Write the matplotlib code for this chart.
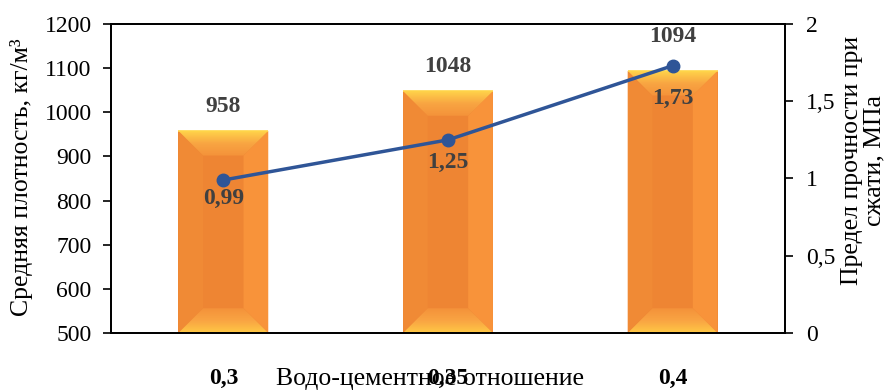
import numpy as np
import matplotlib.pyplot as plt
from matplotlib.patches import Polygon
from matplotlib.colors import LinearSegmentedColormap

plt.rcParams['font.family'] = ['Liberation Serif', 'DejaVu Serif']
plt.rcParams['axes.unicode_minus'] = False

categories = ['0,3', '0,35', '0,4']
density = [958, 1048, 1094]
strength = [0.99, 1.25, 1.73]
strength_labels = ['0,99', '1,25', '1,73']

# label offsets in points (style only)
bar_lab_off = [10, 10, 17]
line_lab_off = [-6, -9, -16]

fig = plt.figure(figsize=(8.93, 3.92), dpi=100)
ax = fig.add_axes([0.1243, 0.1505, 0.7547, 0.7883])
ax2 = ax.twinx()

x = np.arange(len(categories))
ymin, ymax = 500, 1200
ax.set_xlim(-0.5, len(categories) - 0.5)
ax.set_ylim(ymin, ymax)

bars = ax.bar(x, np.array(density) - ymin, bottom=ymin, width=0.4,
              color='#EE8533', edgecolor='none', zorder=2)

# bevel look of the bars
dx, dy = 0.11, 56
top_cmap = LinearSegmentedColormap.from_list('top', ['#F4923A', '#F8A542', '#FFD24A'])
bot_cmap = LinearSegmentedColormap.from_list('bot', ['#FFC845', '#F9A443', '#F4923A'])
for b, off in zip(bars, bar_lab_off):
    x0, x1 = b.get_x(), b.get_x() + b.get_width()
    y0, y1 = b.get_y(), b.get_y() + b.get_height()
    left = Polygon([(x0, y0), (x0 + dx, y0 + dy), (x0 + dx, y1 - dy), (x0, y1)],
                   closed=True, fc='#F08A35', ec='none', zorder=2.1)
    right = Polygon([(x1, y0), (x1 - dx, y0 + dy), (x1 - dx, y1 - dy), (x1, y1)],
                    closed=True, fc='#F8933A', ec='none', zorder=2.1)
    ax.add_patch(left)
    ax.add_patch(right)
    top = Polygon([(x0, y1), (x1, y1), (x1 - dx, y1 - dy), (x0 + dx, y1 - dy)],
                  closed=True, fc='none', ec='none', zorder=2.2)
    bot = Polygon([(x0, y0), (x1, y0), (x1 - dx, y0 + dy), (x0 + dx, y0 + dy)],
                  closed=True, fc='none', ec='none', zorder=2.2)
    ax.add_patch(top)
    ax.add_patch(bot)
    g = np.linspace(0, 1, 64).reshape(-1, 1)
    im = ax.imshow(g, cmap=top_cmap, extent=[x0, x1, y1 - dy, y1], origin='lower',
                   aspect='auto', zorder=2.2)
    im.set_clip_path(top)
    im2 = ax.imshow(g, cmap=bot_cmap, extent=[x0, x1, y0, y0 + dy], origin='lower',
                    aspect='auto', zorder=2.2)
    im2.set_clip_path(bot)
    ax.plot([x0, x1], [y1, y1], color='#FFD54A', lw=1.2, zorder=2.3, solid_capstyle='butt')
    ax.annotate(str(int(b.get_y() + b.get_height())), (b.get_x() + b.get_width() / 2, y1),
                xytext=(0, off), textcoords='offset points', ha='center', va='bottom',
                fontsize=17, fontweight='bold', color='#404040')

ax.set_xlim(-0.5, len(categories) - 0.5)
ax.set_ylim(ymin, ymax)

ax2.plot(x, strength, color='#2F5597', lw=2.5, marker='o', markersize=9, zorder=5)
for xi, s, lab, off in zip(x, strength, strength_labels, line_lab_off):
    ax2.annotate(lab, (xi, s), xytext=(0, off), textcoords='offset points',
                 ha='center', va='top', fontsize=17, fontweight='bold', color='#404040')
ax2.set_ylim(0, 2)
ax2.set_yticks([0, 0.5, 1, 1.5, 2])
ax2.set_yticklabels(['0', '0,5', '1', '1,5', '2'])

ax.set_yticks(np.arange(500, 1201, 100))
ax.set_xticks(x)
ax.set_xticklabels(categories, fontsize=17, fontweight='bold')
ax.tick_params(axis='x', length=0, pad=25)
ax.tick_params(axis='y', direction='out', length=6, width=1.2, labelsize=17, pad=8)
ax2.tick_params(axis='y', direction='out', length=6, width=1.2, labelsize=17, pad=9)

for a in (ax, ax2):
    for sp in a.spines.values():
        sp.set_linewidth(1.3)
        sp.set_color('black')

fig.text(22 / 893, 1 - 177 / 392, 'Средняя плотность, кг/м³', rotation=90,
         ha='center', va='center', fontsize=18.5)
ax.set_xlabel('Водо-цементное отношение', fontsize=18.5)
ax.xaxis.set_label_coords(0.473, -0.112)

fig.text(863 / 893, 1 - 160 / 392, 'Предел прочности при\nсжати, МПа', rotation=90,
         ha='center', va='center', fontsize=18.5, multialignment='center',
         linespacing=1.0)

fig.savefig('out.png', dpi=100)
